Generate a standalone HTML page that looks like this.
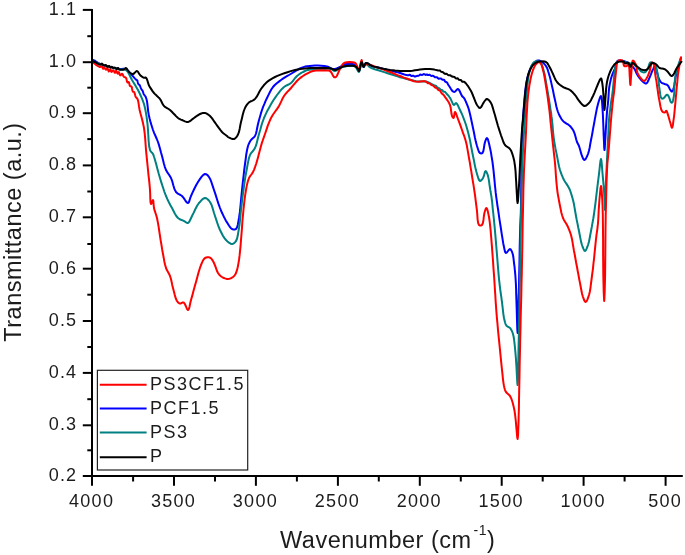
<!DOCTYPE html>
<html><head><meta charset="utf-8"><title>FTIR</title>
<style>html,body{margin:0;padding:0;background:#fff}svg{display:block}</style></head>
<body>
<svg width="685" height="555" viewBox="0 0 685 555">
<rect width="685" height="555" fill="#fff"/>
<g fill="none" stroke-width="2" stroke-linejoin="round" stroke-linecap="round">
<polyline stroke="#0000ff" points="92.0,61.0 92.1,60.9 92.3,60.5 92.6,60.2 93.0,60.0 94.3,60.4 96.0,61.5 98.0,62.9 100.0,64.0 102.3,64.9 104.9,65.7 107.4,66.4 110.0,67.0 112.5,67.6 115.1,68.2 117.7,68.7 120.0,69.0 121.6,69.0 123.2,68.8 124.6,68.7 126.0,69.0 127.4,69.9 128.6,71.1 129.8,72.6 131.0,74.0 132.3,75.5 133.7,77.1 135.0,78.6 136.0,79.6 136.3,79.8 136.7,79.9 136.9,80.1 137.2,80.3 137.5,81.0 137.7,82.0 138.0,83.1 138.3,83.9 138.6,84.3 139.0,84.6 139.3,84.8 139.7,85.2 140.1,86.0 140.4,86.9 140.8,87.9 141.2,88.8 141.5,89.3 141.9,89.8 142.3,90.3 142.6,90.8 142.9,91.6 143.2,92.5 143.4,93.4 143.8,94.2 144.2,94.8 144.7,95.4 145.1,96.0 145.6,96.7 145.9,97.5 146.2,98.3 146.5,99.3 146.8,100.4 147.3,103.3 147.7,106.9 148.1,110.8 148.7,114.6 149.6,118.5 150.6,122.4 151.8,126.3 153.0,130.0 154.2,133.1 155.5,136.0 156.8,139.0 158.0,142.0 159.1,145.4 160.1,148.9 161.0,152.5 162.0,156.0 162.9,159.6 163.8,163.3 164.8,166.8 166.0,170.0 167.2,172.1 168.5,174.0 169.8,175.9 171.0,178.0 172.3,181.4 173.3,185.3 174.5,189.1 176.0,192.0 177.4,193.3 178.9,194.2 180.5,195.0 182.0,196.0 183.6,197.9 185.2,200.3 186.7,202.3 188.0,203.0 188.9,202.2 189.5,200.4 190.2,198.2 191.0,196.0 192.5,192.7 194.2,189.0 196.1,185.3 198.0,182.0 199.7,179.4 201.5,176.9 203.3,174.9 205.0,174.0 206.1,174.2 207.1,174.8 208.1,175.8 209.0,177.0 210.4,179.5 211.6,182.7 212.8,186.4 214.0,190.0 215.5,194.4 217.0,199.2 218.5,203.9 220.0,208.0 221.0,210.5 222.0,212.8 223.0,214.9 224.0,217.0 225.0,218.9 225.9,220.7 227.0,222.4 228.0,224.0 228.9,225.5 229.9,226.9 230.9,228.2 232.0,229.0 233.0,229.4 234.1,229.5 235.1,229.4 236.0,229.0 237.1,227.3 237.8,224.7 238.4,221.4 239.0,218.0 239.9,211.9 240.6,204.8 241.3,197.2 242.0,190.0 242.7,183.3 243.5,176.6 244.2,170.1 245.0,164.0 245.7,159.0 246.3,154.2 247.1,149.7 248.0,146.0 248.7,144.2 249.4,142.7 250.1,141.3 251.0,140.0 252.0,139.0 253.0,138.1 254.1,137.2 255.0,136.0 256.0,133.5 256.7,130.5 257.3,127.2 258.0,124.0 258.9,120.5 259.9,117.0 260.9,113.4 262.0,110.0 263.1,106.9 264.4,103.9 265.6,100.9 267.0,98.0 268.4,95.1 269.8,92.2 271.3,89.5 273.0,87.0 274.8,85.0 276.8,83.2 278.9,81.6 281.0,80.0 282.9,78.7 284.9,77.4 286.9,76.2 289.0,75.0 291.5,73.5 294.1,71.8 296.6,70.3 299.0,69.0 300.5,68.2 302.0,67.6 303.4,67.1 305.0,66.6 307.3,66.2 309.8,65.9 312.4,65.7 315.0,65.6 318.0,65.6 321.2,65.7 324.3,65.9 327.0,66.4 328.7,67.0 330.1,67.9 331.5,68.6 333.0,69.0 334.8,68.9 336.6,68.4 338.4,67.7 340.0,67.0 341.0,66.4 341.9,65.7 342.9,65.1 344.0,64.6 346.5,64.1 349.6,63.8 352.6,63.9 355.0,64.6 356.4,66.1 357.4,68.3 358.2,70.2 359.0,71.0 359.8,69.5 360.4,66.5 361.0,63.4 361.6,62.0 362.1,62.8 362.6,64.5 363.1,66.2 363.6,67.0 364.1,66.4 364.6,65.2 365.2,63.8 366.0,63.0 367.2,63.2 368.7,64.0 370.3,65.1 372.0,66.0 373.9,66.6 375.9,67.1 377.9,67.5 380.0,68.0 382.4,68.6 384.9,69.2 387.5,69.9 390.0,70.5 392.5,71.1 395.1,71.7 397.6,72.4 400.0,73.0 402.2,73.7 404.4,74.5 406.4,75.1 408.0,75.3 408.5,75.2 409.0,75.0 409.4,74.8 409.8,74.8 410.2,75.0 410.6,75.4 411.0,75.7 411.4,76.0 411.9,76.0 412.3,75.8 412.8,75.7 413.2,75.7 413.6,75.9 414.1,76.2 414.5,76.5 414.9,76.6 415.4,76.5 415.9,76.3 416.4,76.1 416.9,75.9 417.3,75.8 417.7,75.9 418.0,75.9 418.4,75.8 418.9,75.5 419.5,75.1 420.0,74.7 420.4,74.5 420.8,74.6 421.1,74.8 421.3,74.9 421.7,75.0 422.2,74.9 422.7,74.6 423.3,74.3 423.8,74.1 424.3,74.2 424.8,74.5 425.2,74.8 425.7,74.9 426.0,74.8 426.3,74.6 426.6,74.5 426.9,74.4 427.2,74.5 427.5,74.7 427.8,75.0 428.1,75.1 428.5,75.1 428.8,74.9 429.2,74.8 429.6,74.8 430.0,74.9 430.4,75.3 430.8,75.6 431.2,75.8 431.7,75.9 432.2,75.8 432.8,75.8 433.3,75.9 433.8,76.2 434.2,76.6 434.6,77.0 435.1,77.3 435.6,77.3 436.1,77.3 436.5,77.2 437.0,77.3 437.4,77.6 437.7,78.0 438.1,78.4 438.5,78.7 439.0,78.7 439.5,78.6 440.1,78.4 440.7,78.4 441.2,78.7 441.6,79.1 442.1,79.5 442.6,79.8 442.9,79.8 443.3,79.7 443.7,79.7 444.0,79.7 444.3,80.1 444.6,80.6 444.9,81.3 445.3,81.7 445.6,81.9 446.0,82.0 446.5,82.2 446.9,82.4 447.3,82.9 447.6,83.5 448.0,84.2 448.4,85.0 449.6,86.8 451.0,89.1 452.5,91.1 454.0,92.0 455.0,91.6 456.1,90.5 457.1,89.4 458.0,89.0 459.1,90.0 460.1,92.0 461.1,94.3 462.0,96.0 462.5,96.6 463.0,97.0 463.5,97.5 464.0,98.0 464.5,98.8 465.0,99.8 465.5,100.9 466.0,102.0 466.7,103.7 467.5,105.6 468.3,107.7 469.0,110.0 470.0,114.0 471.0,118.5 472.0,123.3 473.0,128.0 474.0,132.7 474.9,137.5 475.9,142.1 477.0,146.0 477.7,148.2 478.4,150.3 479.1,152.0 480.0,153.0 480.6,153.3 481.2,153.4 481.8,153.3 482.4,153.0 483.3,151.2 483.9,148.1 484.4,144.7 485.0,142.0 485.5,140.6 486.0,139.3 486.5,138.4 487.0,138.0 487.8,139.1 488.5,141.6 489.3,144.8 490.0,148.0 490.9,152.1 491.6,156.6 492.4,161.3 493.0,166.0 493.6,171.1 494.1,176.4 494.6,181.5 495.0,186.0 495.3,188.5 495.5,190.6 495.7,192.7 496.0,195.0 496.4,198.2 496.9,201.7 497.4,205.3 498.0,209.0 498.7,213.8 499.4,218.8 500.2,224.0 501.0,229.0 501.7,233.8 502.5,238.7 503.2,243.2 504.0,247.0 504.4,249.0 504.8,250.9 505.3,252.3 506.0,253.0 506.9,252.5 508.0,251.0 509.1,249.6 510.0,249.0 510.7,249.4 511.3,250.4 511.9,251.7 512.4,253.0 513.0,255.1 513.4,257.5 513.7,260.2 514.0,263.0 514.5,266.7 514.9,270.6 515.3,274.8 515.6,279.0 515.9,283.9 516.1,289.0 516.2,294.3 516.4,300.0 516.7,309.3 517.0,320.2 517.3,329.2 517.6,333.0 517.9,329.1 518.1,319.8 518.3,308.9 518.5,300.0 518.6,296.0 518.8,292.7 518.9,289.2 519.0,285.0 519.2,274.3 519.5,261.0 519.7,247.3 520.0,235.0 520.2,227.3 520.5,220.3 520.8,213.2 521.0,205.0 521.2,189.1 521.4,170.6 521.6,152.0 522.0,136.0 522.4,127.2 522.9,119.3 523.4,112.0 524.0,105.0 524.4,99.6 524.9,94.4 525.4,89.6 526.0,85.0 526.6,81.5 527.3,78.1 528.1,74.9 529.0,72.0 529.9,69.7 530.8,67.6 531.8,65.7 533.0,64.0 534.1,62.8 535.4,61.7 536.7,60.8 538.0,60.4 539.0,60.5 540.0,60.8 541.0,61.4 542.0,62.0 543.1,62.8 544.1,63.7 545.1,64.8 546.0,66.0 546.9,67.7 547.7,69.7 548.3,71.8 549.0,74.0 549.8,76.8 550.6,79.8 551.3,82.9 552.0,86.0 552.8,89.4 553.5,93.0 554.2,96.6 555.0,100.0 555.7,103.1 556.3,106.2 557.1,109.2 558.0,112.0 559.0,114.5 560.2,116.8 561.5,119.1 563.0,121.0 564.7,122.4 566.5,123.6 568.4,124.7 570.0,126.0 571.2,127.4 572.2,128.8 573.2,130.3 574.0,132.0 574.9,134.4 575.6,137.1 576.3,139.8 577.0,142.0 577.5,143.1 578.0,144.0 578.5,144.9 579.0,146.0 579.7,148.3 580.5,151.0 581.2,153.7 582.0,156.0 582.6,157.3 583.1,158.6 583.8,159.6 584.4,160.0 585.3,159.4 586.2,157.9 587.2,156.0 588.0,154.0 588.9,151.0 589.7,147.5 590.3,143.7 591.0,140.0 591.8,136.1 592.5,132.2 593.2,128.1 594.0,124.0 594.9,118.9 595.9,113.6 596.9,108.4 598.0,104.0 598.8,101.3 599.6,98.7 600.4,96.7 601.0,96.0 601.6,97.5 602.0,101.1 602.3,105.7 602.6,110.0 602.9,114.7 603.1,119.8 603.3,124.9 603.5,130.0 603.7,135.9 604.0,142.5 604.2,147.8 604.5,150.0 604.8,147.8 605.1,142.4 605.5,135.9 605.8,130.0 606.1,125.4 606.4,120.7 606.7,116.2 607.0,112.0 607.3,108.7 607.7,105.7 608.0,102.7 608.3,99.6 608.5,96.4 608.7,93.2 608.9,90.1 609.3,87.0 609.8,84.1 610.4,81.3 611.0,78.6 611.8,76.0 612.5,74.0 613.3,72.2 614.1,70.4 614.9,68.6 615.5,66.5 615.9,64.3 616.5,62.3 617.4,61.0 618.6,60.5 620.0,60.5 621.6,60.7 623.0,61.0 624.3,61.3 625.5,61.7 626.8,62.3 628.0,63.0 629.6,64.1 631.3,65.5 632.9,67.0 634.2,68.6 635.1,70.1 635.8,71.7 636.5,73.3 637.3,74.8 638.4,76.5 639.6,78.1 640.9,79.7 642.2,81.0 643.2,81.9 644.3,82.8 645.3,83.4 646.2,83.5 647.2,82.7 648.1,81.1 648.9,79.1 649.7,77.3 650.5,75.4 651.3,73.4 652.0,71.5 652.8,69.8 653.4,68.6 653.9,67.3 654.5,66.3 655.0,66.0 655.9,67.4 656.7,70.6 657.5,74.3 658.4,77.3 659.0,78.8 659.5,80.1 660.1,81.2 660.9,82.2 661.7,82.8 662.7,83.3 663.7,83.6 664.6,84.0 665.4,84.3 666.2,84.5 667.0,84.8 667.7,85.3 668.4,86.2 669.0,87.4 669.6,88.7 670.2,89.7 670.7,90.4 671.1,91.0 671.6,91.5 672.0,91.6 672.5,91.1 673.0,90.1 673.5,88.7 673.9,87.2 674.5,84.5 675.0,81.4 675.4,78.1 676.0,75.0 676.6,72.6 677.2,70.4 677.9,68.2 678.5,66.0 679.2,63.6 680.1,61.0 680.7,58.9 681.0,58.0"/>
<polyline stroke="#008080" points="92.0,61.0 92.9,61.3 94.9,62.1 97.6,63.1 100.0,64.0 102.4,64.8 104.9,65.6 107.5,66.3 110.0,67.0 112.6,67.7 115.1,68.4 117.7,69.0 120.0,69.5 121.6,69.6 123.2,69.5 124.6,69.5 126.0,70.0 127.7,71.7 129.2,74.3 130.6,77.2 132.0,80.0 133.5,82.5 135.0,84.9 136.5,87.4 138.0,90.0 139.6,93.3 141.2,96.7 142.7,100.3 144.0,104.0 145.0,108.0 145.8,112.1 146.5,116.2 147.0,120.0 147.3,122.6 147.6,124.9 147.8,127.3 148.0,130.0 148.3,134.9 148.6,140.6 149.1,146.0 150.0,150.0 150.7,151.3 151.5,152.2 152.3,153.0 153.0,154.0 153.6,155.3 154.0,156.7 154.5,158.2 155.0,160.0 156.1,163.8 157.3,168.4 158.6,173.3 160.0,178.0 161.4,182.6 162.9,187.3 164.4,191.8 166.0,196.0 167.4,199.2 168.9,202.3 170.4,205.2 172.0,208.0 173.4,210.7 174.8,213.5 176.3,216.0 178.0,218.0 179.4,219.0 181.0,219.8 182.6,220.4 184.0,221.0 185.1,221.7 186.1,222.4 187.1,222.9 188.0,223.0 189.1,222.1 190.0,220.3 191.0,218.2 192.0,216.0 193.6,212.9 195.3,209.3 197.1,205.8 199.0,203.0 200.5,201.3 202.0,199.6 203.5,198.5 205.0,198.0 206.3,198.3 207.6,199.2 208.9,200.5 210.0,202.0 211.5,204.8 212.7,208.4 213.8,212.3 215.0,216.0 216.2,219.6 217.4,223.2 218.6,226.7 220.0,230.0 221.4,232.8 222.8,235.5 224.3,237.9 226.0,240.0 227.5,241.4 229.0,242.7 230.6,243.7 232.0,244.0 233.1,243.7 234.2,243.1 235.1,242.1 236.0,241.0 237.1,238.5 237.8,235.3 238.4,231.6 239.0,228.0 239.6,223.8 240.1,219.4 240.5,214.8 241.0,210.0 241.7,204.2 242.4,198.0 243.2,191.8 244.0,186.0 244.7,181.2 245.4,176.6 246.2,172.2 247.0,168.0 247.6,164.5 248.3,161.1 249.0,157.9 250.0,155.0 251.1,153.1 252.5,151.5 253.8,149.9 255.0,148.0 256.2,144.9 257.1,141.4 258.0,137.7 259.0,134.0 260.2,130.0 261.3,125.9 262.6,121.8 264.0,118.0 265.4,114.8 266.8,111.8 268.4,108.9 270.0,106.0 271.7,103.1 273.4,100.3 275.2,97.6 277.0,95.0 278.7,92.8 280.4,90.7 282.2,88.7 284.0,87.0 285.7,85.9 287.5,85.0 289.3,84.1 291.0,83.0 292.6,81.4 294.0,79.5 295.4,77.7 297.0,76.0 298.9,74.5 300.9,73.2 303.0,72.0 305.0,71.0 306.5,70.4 307.9,70.0 309.3,69.7 311.0,69.4 314.2,69.1 318.0,69.0 321.8,69.0 325.0,69.0 326.7,68.9 328.2,68.8 329.7,68.8 331.0,69.0 332.1,69.5 333.0,70.2 334.0,70.8 335.0,71.0 336.2,70.6 337.5,69.8 338.7,68.8 340.0,68.0 341.2,67.5 342.4,67.0 343.6,66.7 345.0,66.4 347.4,66.0 350.1,65.8 352.8,65.8 355.0,66.4 356.3,67.7 357.3,69.7 358.2,71.4 359.0,72.0 359.8,70.3 360.4,66.9 361.0,63.6 361.6,62.0 362.1,62.7 362.5,64.4 363.0,66.2 363.6,67.0 364.1,66.6 364.7,65.6 365.3,64.5 366.0,64.0 366.9,64.3 367.8,65.2 368.8,66.4 370.0,67.3 372.1,68.3 374.7,69.2 377.4,70.0 380.0,70.8 382.5,71.6 385.0,72.4 387.5,73.2 390.0,74.0 392.5,74.8 395.0,75.6 397.5,76.4 400.0,77.2 402.5,77.9 405.1,78.6 407.6,79.2 410.0,79.8 412.1,80.3 414.0,80.8 416.0,81.3 418.0,81.6 420.0,81.6 422.0,81.4 424.0,81.3 426.0,81.5 428.2,82.2 430.4,83.3 432.4,84.4 434.0,85.2 434.6,85.4 435.0,85.6 435.5,85.7 435.9,85.9 436.4,86.3 436.9,86.9 437.4,87.4 437.9,87.8 438.3,88.0 438.7,88.1 439.0,88.2 439.4,88.4 439.7,88.7 440.1,89.2 440.4,89.6 440.8,89.9 441.1,90.0 441.5,90.0 441.8,90.0 442.1,90.1 442.5,90.4 442.8,90.8 443.1,91.3 443.5,91.6 443.9,91.7 444.3,91.8 444.8,91.8 445.2,92.0 445.6,92.5 446.1,93.1 446.5,93.7 447.0,94.3 447.3,94.6 447.7,94.9 448.1,95.3 448.4,95.6 448.9,96.3 449.4,97.0 450.0,97.8 450.5,98.7 451.3,100.4 452.2,102.4 453.1,104.2 454.0,105.0 454.5,104.7 455.0,104.0 455.5,103.3 456.0,103.0 456.9,103.8 458.0,105.6 459.0,107.8 460.0,110.0 461.3,112.7 462.6,115.7 463.8,118.8 465.0,122.0 466.1,125.3 467.1,128.8 468.1,132.3 469.0,136.0 470.1,140.8 471.0,145.8 472.0,151.0 473.0,156.0 474.0,160.8 474.9,165.6 475.9,170.1 477.0,174.0 477.7,176.3 478.4,178.5 479.2,180.2 480.0,181.0 480.7,180.8 481.5,180.1 482.3,179.1 483.0,178.0 483.8,176.2 484.4,173.9 485.0,171.9 485.6,171.0 486.2,171.5 486.8,172.7 487.5,174.3 488.0,176.0 488.6,178.6 489.1,181.6 489.5,184.8 490.0,188.0 490.5,191.3 491.1,194.6 491.6,197.9 492.0,201.0 492.3,203.5 492.5,205.9 492.7,208.3 493.0,211.0 493.5,215.5 494.0,220.5 494.5,225.7 495.0,231.0 495.5,236.8 496.0,242.9 496.5,248.9 497.0,255.0 497.5,261.1 498.0,267.3 498.5,273.3 499.0,279.0 499.5,283.4 500.0,287.6 500.5,291.5 501.0,295.0 501.3,296.9 501.5,298.5 501.7,300.1 502.0,302.0 502.4,305.7 502.9,310.0 503.4,314.3 504.0,318.0 504.5,320.2 505.0,322.3 505.6,324.1 506.4,325.6 507.2,326.3 508.2,326.8 509.1,327.3 510.0,328.0 510.9,329.2 511.7,330.6 512.4,332.2 513.0,334.0 513.7,337.0 514.2,340.5 514.6,344.2 515.0,348.0 515.4,352.3 515.8,356.8 516.1,361.4 516.4,366.0 516.7,371.6 517.0,377.8 517.3,382.9 517.6,385.0 517.9,381.5 518.1,372.7 518.3,361.3 518.5,350.0 518.9,333.0 519.3,313.7 519.6,293.8 520.0,275.0 520.3,259.6 520.5,244.7 520.7,230.0 521.0,215.0 521.4,198.4 521.9,181.4 522.4,164.8 523.0,150.0 523.5,140.6 524.0,132.0 524.5,123.9 525.0,116.0 525.5,109.1 525.9,102.4 526.5,96.0 527.0,90.0 527.4,85.6 527.8,81.5 528.3,77.6 529.0,74.0 529.6,71.4 530.3,69.0 531.1,66.8 532.0,65.0 532.7,63.9 533.3,62.9 534.1,62.1 535.0,61.6 536.2,61.3 537.5,61.2 538.8,61.4 540.0,62.0 541.3,63.6 542.3,66.1 543.2,69.0 544.0,72.0 544.9,75.7 545.6,79.7 546.3,83.8 547.0,88.0 547.8,92.5 548.6,97.1 549.3,101.6 550.0,106.0 550.5,109.6 551.1,112.9 551.5,116.4 552.0,120.0 552.5,124.8 552.9,129.9 553.4,135.1 554.0,140.0 554.7,144.2 555.4,148.2 556.2,152.1 557.0,156.0 557.7,159.6 558.4,163.2 559.1,166.7 560.0,170.0 560.9,172.7 561.8,175.2 562.9,177.7 564.0,180.0 565.2,182.0 566.5,183.9 567.8,185.9 569.0,188.0 570.2,190.7 571.2,193.7 572.1,196.8 573.0,200.0 573.9,203.8 574.6,207.9 575.3,212.0 576.0,216.0 576.7,219.8 577.5,223.6 578.2,227.3 579.0,231.0 579.7,234.7 580.4,238.4 581.1,241.9 582.0,245.0 582.7,247.0 583.5,248.9 584.2,250.4 585.0,251.0 585.8,250.4 586.5,248.9 587.3,247.0 588.0,245.0 588.9,242.0 589.6,238.5 590.3,234.7 591.0,231.0 591.8,226.9 592.5,222.8 593.3,218.5 594.0,214.0 594.8,208.2 595.6,202.0 596.3,195.8 597.0,190.0 597.5,185.8 598.0,181.8 598.5,177.9 599.0,174.0 599.5,169.5 600.0,164.6 600.5,160.6 601.0,159.0 601.4,160.4 601.7,163.7 602.1,168.0 602.4,172.0 602.8,176.3 603.2,180.8 603.6,185.4 604.0,190.0 604.3,195.9 604.6,202.4 604.8,207.8 605.0,210.0 605.3,206.8 605.5,199.0 605.7,189.2 606.0,180.0 606.5,170.1 607.0,159.5 607.5,149.2 608.0,140.0 608.3,134.4 608.5,129.4 608.7,124.6 609.0,120.0 609.3,116.3 609.7,112.7 610.2,109.2 610.6,105.8 611.0,102.6 611.5,99.5 612.0,96.5 612.4,93.4 612.8,90.3 613.1,87.2 613.4,84.1 613.7,81.0 614.0,78.1 614.2,75.2 614.5,72.4 614.9,69.8 615.2,67.6 615.6,65.3 616.1,63.4 617.0,62.0 618.2,61.4 619.8,61.3 621.5,61.3 623.0,61.5 624.3,61.8 625.5,62.2 626.8,62.6 628.0,63.0 629.3,63.2 630.5,63.4 631.8,63.6 633.0,64.0 634.4,64.9 635.9,66.1 637.3,67.4 638.5,68.6 639.3,69.5 640.1,70.3 640.8,71.1 641.6,71.7 642.4,72.1 643.2,72.3 644.0,72.4 644.7,72.3 645.6,71.8 646.4,70.8 647.1,69.7 647.8,68.6 648.5,67.0 649.0,65.1 649.6,63.4 650.3,62.4 650.9,62.3 651.6,62.4 652.3,62.6 653.0,63.0 653.7,63.5 654.3,64.2 654.9,65.0 655.5,66.0 656.2,67.8 656.8,69.9 657.3,72.3 657.8,74.8 658.3,78.3 658.7,82.3 659.1,86.2 659.6,89.7 660.0,92.3 660.3,94.9 660.8,97.1 661.5,98.4 661.9,98.6 662.4,98.7 662.9,98.6 663.4,98.4 664.3,97.6 665.2,96.4 666.2,95.2 667.0,94.7 667.6,94.9 668.1,95.5 668.6,96.3 669.0,97.1 669.5,98.3 669.9,99.7 670.3,101.1 670.8,102.0 671.1,102.3 671.4,102.6 671.7,102.7 672.0,102.7 672.6,101.9 673.1,100.2 673.5,98.1 673.9,96.0 674.2,93.2 674.3,90.0 674.3,86.7 674.5,83.5 674.9,80.3 675.3,77.1 675.8,73.9 676.4,71.0 677.0,68.8 677.6,66.8 678.3,64.8 679.0,63.0 679.6,61.4 680.3,59.8 680.8,58.5 681.0,58.0"/>
<polyline stroke="#ff0000" points="92.0,61.6 93.0,62.4 95.4,64.3 98.1,66.1 100.0,67.0 100.5,66.8 100.9,66.4 101.2,66.1 101.5,66.0 102.0,66.5 102.4,67.4 102.8,68.3 103.1,68.8 103.4,68.6 103.7,68.2 103.9,67.8 104.2,67.6 104.7,67.9 105.1,68.7 105.6,69.4 106.0,69.7 106.4,69.4 106.7,68.8 107.0,68.2 107.3,67.9 107.7,68.5 108.0,69.7 108.4,70.8 108.8,71.4 109.1,71.1 109.5,70.3 109.9,69.6 110.3,69.2 110.6,69.7 110.8,70.6 111.1,71.5 111.4,71.9 111.9,71.7 112.3,71.1 112.8,70.4 113.3,70.2 113.7,70.7 114.2,71.6 114.6,72.5 115.0,72.9 115.3,72.6 115.6,71.8 115.8,71.1 116.1,70.7 116.5,71.2 116.9,72.2 117.3,73.2 117.7,73.7 118.0,73.4 118.2,72.8 118.5,72.2 118.8,72.0 119.1,72.5 119.4,73.6 119.8,74.8 120.2,75.4 120.7,75.2 121.1,74.6 121.6,74.0 122.1,73.8 122.6,74.2 123.0,75.2 123.4,76.2 124.0,76.9 124.4,77.1 124.8,77.2 125.3,77.2 125.7,77.5 126.3,78.6 126.7,80.2 127.1,81.7 127.6,82.6 127.9,82.5 128.2,82.3 128.5,82.1 128.8,82.1 129.1,82.7 129.4,83.9 129.6,85.2 130.0,86.0 130.3,86.2 130.7,86.2 131.1,86.3 131.4,86.5 131.9,87.5 132.1,89.0 132.4,90.5 132.8,91.5 133.1,91.8 133.5,91.8 133.8,91.9 134.2,92.1 134.6,93.1 135.0,94.4 135.3,95.8 135.7,96.9 136.2,97.5 136.7,98.0 137.2,98.5 137.6,99.2 138.2,101.1 138.6,103.6 139.0,106.4 139.5,109.4 140.5,113.6 141.8,118.2 143.0,123.1 144.0,128.0 144.7,133.4 145.2,138.9 145.6,144.5 146.0,150.0 146.5,155.1 147.0,160.1 147.5,165.0 148.0,170.0 148.5,175.1 149.1,180.2 149.6,185.2 150.0,190.0 150.2,194.3 150.3,198.8 150.5,202.5 151.0,204.0 151.5,203.4 152.0,202.0 152.6,200.6 153.0,200.0 153.3,200.9 153.5,203.0 153.7,205.6 154.0,208.0 154.6,210.4 155.4,212.7 156.2,215.3 157.0,218.0 157.8,222.1 158.6,226.7 159.3,231.4 160.0,236.0 160.7,240.6 161.5,245.1 162.2,249.7 163.0,254.0 163.7,257.7 164.3,261.4 165.1,264.8 166.0,268.0 166.9,270.1 168.0,272.0 169.1,273.9 170.0,276.0 170.9,278.8 171.6,281.8 172.2,284.9 173.0,288.0 173.9,291.5 174.8,295.1 175.8,298.5 177.0,301.0 177.7,302.0 178.4,302.7 179.2,303.3 180.0,303.6 180.9,303.4 181.8,302.9 182.7,302.4 183.6,302.4 184.8,303.9 186.0,306.5 187.0,309.0 188.0,310.0 188.9,308.9 189.6,306.4 190.2,303.2 191.0,300.0 192.2,295.9 193.4,291.3 194.7,286.6 196.0,282.0 197.2,277.5 198.4,273.0 199.7,268.7 201.0,265.0 201.9,262.8 202.8,260.8 203.8,259.2 205.0,258.0 206.2,257.5 207.5,257.2 208.8,257.3 210.0,257.6 211.2,258.5 212.2,259.8 213.1,261.3 214.0,263.0 215.0,265.4 216.0,268.1 216.9,270.8 218.0,273.0 218.9,274.2 219.8,275.3 220.9,276.2 222.0,277.0 223.4,277.8 224.9,278.4 226.5,278.9 228.0,279.0 229.3,278.8 230.7,278.4 231.9,277.7 233.0,277.0 233.9,276.2 234.7,275.3 235.4,274.3 236.0,273.0 236.9,270.4 237.7,267.2 238.4,263.6 239.0,260.0 239.6,255.4 240.1,250.4 240.6,245.3 241.0,240.0 241.5,233.9 242.0,227.7 242.4,221.3 243.0,215.0 243.6,208.5 244.3,201.9 245.1,195.6 246.0,190.0 246.6,186.6 247.3,183.4 248.1,180.6 249.0,178.0 249.9,176.4 251.0,175.0 252.0,173.6 253.0,172.0 254.1,169.6 255.1,166.9 256.1,164.0 257.0,161.0 258.0,157.4 259.0,153.5 260.0,149.7 261.0,146.0 261.9,142.9 262.9,140.0 263.9,137.1 265.0,134.0 266.3,130.1 267.7,125.9 269.3,121.8 271.0,118.0 272.9,114.8 275.0,111.8 277.1,108.9 279.0,106.0 280.3,103.4 281.5,100.9 282.6,98.4 284.0,96.0 285.6,93.9 287.3,91.9 289.2,90.0 291.0,88.0 292.9,85.7 294.9,83.3 296.9,81.0 299.0,79.0 301.0,77.4 303.0,76.0 305.0,74.7 307.0,73.6 308.5,72.8 309.9,72.1 311.3,71.5 313.0,71.0 315.8,70.6 319.0,70.4 322.3,70.3 325.0,70.4 326.4,70.4 327.7,70.4 328.9,70.5 330.0,71.0 331.2,72.3 332.2,74.1 333.1,75.9 334.0,77.0 334.5,77.2 335.0,77.3 335.5,77.2 336.0,77.0 336.8,76.0 337.5,74.5 338.3,72.7 339.0,71.0 339.7,69.6 340.5,68.1 341.2,66.7 342.0,65.5 342.5,64.7 343.1,63.9 343.7,63.3 344.5,62.8 346.8,62.2 349.8,62.0 352.8,62.2 355.0,62.8 355.7,63.4 356.2,64.2 356.6,65.1 357.0,66.0 357.5,67.2 358.0,68.5 358.5,69.6 359.0,70.0 359.7,68.4 360.4,65.0 361.0,61.5 361.6,60.0 361.9,60.9 362.2,62.9 362.5,64.9 363.0,66.0 363.6,65.8 364.3,65.2 365.1,64.4 366.0,64.0 368.0,64.2 370.5,64.9 373.2,66.0 376.0,67.0 379.4,68.1 383.0,69.4 386.6,70.7 390.0,72.0 392.6,73.0 395.2,74.1 397.6,75.1 400.0,76.0 402.1,76.8 404.0,77.6 406.0,78.3 408.0,79.0 410.0,79.7 412.0,80.5 414.0,81.2 416.0,81.6 418.1,81.7 420.3,81.5 422.4,81.3 424.0,81.2 424.6,81.2 425.0,81.3 425.5,81.4 425.9,81.6 426.5,82.0 427.0,82.5 427.5,82.9 428.1,83.3 428.4,83.3 428.8,83.3 429.1,83.3 429.5,83.4 430.0,83.7 430.4,84.1 430.9,84.6 431.4,84.9 431.8,85.1 432.3,85.3 432.8,85.4 433.3,85.7 433.8,86.1 434.3,86.7 434.8,87.2 435.2,87.6 435.6,87.8 436.0,87.8 436.3,87.9 436.7,88.0 437.1,88.4 437.4,88.9 437.8,89.5 438.2,89.9 438.7,90.2 439.2,90.4 439.8,90.6 440.2,90.9 440.6,91.4 440.9,92.0 441.2,92.6 441.6,93.2 442.0,93.6 442.5,94.0 443.0,94.4 443.4,94.8 443.9,95.3 444.3,95.9 444.8,96.6 445.3,97.4 446.4,98.9 447.7,100.8 449.0,102.8 450.0,105.0 450.7,107.8 451.1,110.9 451.5,113.8 452.0,116.0 452.4,116.8 452.8,117.4 453.2,117.9 453.6,118.0 454.0,117.0 454.3,115.0 454.6,112.9 455.0,112.0 455.6,112.7 456.4,114.5 457.2,116.8 458.0,119.0 459.0,121.6 460.0,124.3 461.0,127.2 462.0,130.0 463.0,132.9 464.1,135.8 465.1,138.8 466.0,142.0 466.9,145.8 467.6,149.8 468.3,153.9 469.0,158.0 469.8,162.4 470.5,166.9 471.3,171.4 472.0,176.0 472.8,180.8 473.6,185.6 474.3,190.3 475.0,195.0 475.5,199.1 476.0,203.2 476.5,207.1 477.0,211.0 477.3,215.0 477.6,219.3 478.1,222.9 479.0,225.0 479.7,225.4 480.5,225.5 481.3,225.4 482.0,225.0 482.9,223.0 483.5,219.7 483.9,216.0 484.4,213.0 484.9,211.3 485.4,209.7 485.9,208.5 486.4,208.0 487.1,208.9 487.8,211.2 488.4,214.1 489.0,217.0 489.6,221.0 490.1,225.4 490.6,230.1 491.0,235.0 491.5,241.1 492.0,247.6 492.5,254.3 493.0,261.0 493.5,268.6 494.1,276.5 494.6,284.2 495.0,291.0 495.3,295.0 495.5,298.6 495.7,302.1 496.0,306.0 496.4,311.7 496.9,317.8 497.5,324.0 498.0,330.0 498.5,335.1 499.0,340.1 499.5,345.0 500.0,350.0 500.5,355.1 501.0,360.1 501.5,365.2 502.0,370.0 502.5,374.3 502.9,378.6 503.4,382.6 504.0,386.0 504.4,387.8 504.8,389.3 505.3,390.7 506.0,392.0 506.9,393.1 508.0,394.0 509.1,394.9 510.0,396.0 510.9,397.7 511.7,399.7 512.4,401.8 513.0,404.0 513.6,406.4 514.1,408.8 514.6,411.3 515.0,414.0 515.4,417.4 515.8,421.0 516.1,424.6 516.4,428.0 516.7,431.4 517.0,435.0 517.3,437.8 517.6,439.0 517.8,437.7 518.1,434.4 518.2,430.2 518.4,426.0 518.6,420.5 518.7,414.6 518.9,408.1 519.0,401.0 519.2,389.4 519.5,376.4 519.7,362.9 520.0,350.0 520.2,338.8 520.5,327.8 520.7,316.9 521.0,306.0 521.3,295.1 521.5,284.2 521.8,273.3 522.0,262.0 522.3,249.1 522.5,235.8 522.7,222.6 523.0,210.0 523.2,199.5 523.4,189.3 523.7,179.5 524.0,170.0 524.4,162.2 524.8,154.7 525.2,147.4 525.6,140.0 526.0,132.2 526.3,124.3 526.6,116.7 527.0,110.0 527.2,106.1 527.4,102.7 527.7,99.4 528.0,96.0 528.4,92.5 528.9,88.9 529.4,85.4 530.0,82.0 530.6,78.8 531.3,75.7 532.1,72.7 533.0,70.0 533.9,67.9 534.8,65.9 535.9,64.2 537.0,63.0 537.7,62.6 538.5,62.3 539.3,62.2 540.0,62.4 540.9,63.5 541.7,65.3 542.4,67.6 543.0,70.0 543.9,73.5 544.6,77.5 545.3,81.7 546.0,86.0 546.8,91.1 547.6,96.4 548.3,101.8 549.0,107.0 549.6,111.8 550.1,116.6 550.5,121.3 551.0,126.0 551.5,130.8 552.0,135.5 552.5,140.3 553.0,145.0 553.5,149.5 554.0,153.8 554.5,158.3 555.0,163.0 555.5,169.1 555.9,175.5 556.4,181.9 557.0,188.0 557.6,192.8 558.4,197.4 559.2,201.8 560.0,206.0 560.7,209.3 561.3,212.4 562.1,215.3 563.0,218.0 563.9,219.9 564.9,221.6 566.0,223.2 567.0,225.0 568.1,227.3 569.1,229.7 570.1,232.3 571.0,235.0 571.9,238.7 572.6,242.7 573.3,246.9 574.0,251.0 574.8,255.0 575.5,259.0 576.2,263.0 577.0,267.0 577.7,271.0 578.5,275.1 579.2,279.1 580.0,283.0 580.7,286.7 581.4,290.5 582.1,294.0 583.0,297.0 583.6,298.7 584.2,300.3 584.9,301.5 585.6,302.0 586.5,301.3 587.4,299.6 588.2,297.3 589.0,295.0 589.9,291.5 590.5,287.6 591.0,283.3 591.6,279.0 592.2,274.2 592.9,269.1 593.4,264.1 594.0,259.0 594.5,253.9 595.0,248.9 595.5,243.8 596.0,239.0 596.5,234.9 597.1,230.9 597.6,227.0 598.0,223.0 598.3,218.8 598.5,214.6 598.7,210.4 599.0,206.0 599.4,200.2 600.0,193.6 600.5,188.2 601.0,186.0 601.4,187.4 601.7,190.9 602.0,195.5 602.3,200.0 602.6,206.8 602.8,214.4 602.9,222.6 603.0,231.0 603.1,241.7 603.1,253.2 603.2,264.6 603.3,275.0 603.5,283.2 603.7,291.7 604.0,298.3 604.2,301.0 604.4,298.3 604.7,291.7 604.9,283.2 605.1,275.0 605.2,265.0 605.3,254.2 605.4,242.8 605.5,231.0 605.7,215.8 606.1,199.4 606.5,183.5 607.0,170.0 607.4,163.2 608.0,157.4 608.5,151.8 609.0,146.0 609.5,139.5 610.0,132.9 610.5,126.3 611.0,120.0 611.5,114.7 612.0,109.4 612.5,104.5 613.0,100.0 613.3,97.3 613.7,94.8 614.0,92.4 614.3,89.7 614.7,85.3 615.1,80.3 615.6,75.4 616.1,71.0 616.4,68.0 616.7,65.1 617.1,62.6 618.0,61.0 619.0,60.4 620.2,60.1 621.4,60.2 622.4,60.5 623.0,61.6 623.4,63.3 623.7,64.9 624.2,66.0 624.8,66.2 625.5,66.3 626.1,66.2 626.7,66.0 627.1,65.6 627.4,65.0 627.7,64.4 628.0,64.2 628.3,64.5 628.7,65.3 629.0,66.3 629.2,67.3 629.4,69.2 629.5,71.4 629.6,73.7 629.7,76.0 629.9,78.7 630.0,81.6 630.2,84.0 630.4,85.0 630.6,84.0 630.7,81.7 630.9,78.7 631.1,76.0 631.3,73.2 631.5,70.1 631.7,67.3 632.0,64.8 632.2,63.4 632.3,62.0 632.5,61.0 632.9,60.5 633.6,60.9 634.4,61.9 635.3,63.4 636.0,64.8 636.5,66.5 636.7,68.5 636.9,70.4 637.3,72.3 638.0,74.0 639.0,75.7 640.0,77.2 641.0,78.5 641.8,79.4 642.5,80.2 643.3,80.8 644.1,81.0 644.9,80.6 645.7,79.7 646.5,78.5 647.2,77.3 647.9,75.9 648.5,74.3 649.1,72.7 649.7,71.0 650.3,68.6 650.9,65.8 651.5,63.4 652.2,62.4 652.6,62.6 653.1,63.1 653.6,63.9 654.0,64.8 654.5,66.8 654.8,69.4 655.0,72.2 655.3,74.8 655.6,76.7 655.9,78.5 656.3,80.3 656.6,82.4 657.1,86.1 657.7,90.2 658.3,94.5 659.0,98.6 659.7,102.3 660.4,106.2 661.2,109.5 662.3,111.6 662.9,112.1 663.5,112.3 664.1,112.4 664.7,112.4 665.2,112.1 665.6,111.5 665.9,111.0 666.3,110.8 666.8,111.3 667.2,112.3 667.6,113.6 668.0,114.9 668.6,116.8 669.2,118.9 669.8,121.1 670.4,123.0 670.8,124.5 671.2,126.1 671.6,127.3 672.0,127.8 672.4,127.0 672.9,124.9 673.2,122.3 673.6,119.7 674.1,116.1 674.5,112.0 674.9,107.7 675.3,103.5 675.7,99.1 676.1,94.5 676.5,90.0 676.9,85.7 677.3,81.9 677.6,78.2 678.0,74.6 678.5,71.0 679.2,66.9 680.0,62.4 680.7,58.8 681.0,57.3"/>
<polyline stroke="#000000" points="92.0,61.0 92.4,61.2 93.5,61.5 94.8,62.0 96.0,62.5 97.0,63.1 98.1,63.8 99.1,64.4 100.0,64.6 100.5,64.5 101.0,64.1 101.4,63.8 101.8,63.6 102.3,63.9 102.8,64.5 103.3,65.1 103.9,65.5 104.4,65.4 104.9,65.2 105.4,65.1 105.9,65.0 106.3,65.4 106.7,66.0 107.0,66.5 107.4,66.8 107.9,66.7 108.3,66.3 108.8,66.0 109.2,65.9 109.5,66.2 109.8,66.8 110.1,67.3 110.4,67.6 110.7,67.5 111.1,67.2 111.4,66.9 111.8,66.8 112.2,67.0 112.6,67.3 113.0,67.8 113.4,68.0 113.8,67.9 114.1,67.7 114.4,67.6 114.8,67.5 115.3,67.8 115.8,68.3 116.3,68.8 116.8,69.1 117.1,68.9 117.4,68.4 117.7,68.0 118.0,67.9 118.3,68.1 118.6,68.6 118.9,69.1 119.3,69.5 120.3,69.7 121.6,69.8 122.9,69.7 124.0,69.5 124.6,69.1 125.1,68.6 125.5,68.2 126.0,68.0 126.7,68.5 127.4,69.7 128.2,71.0 129.0,72.0 129.9,72.7 130.9,73.4 132.0,73.9 133.0,74.0 134.0,73.5 135.1,72.4 136.1,71.4 137.0,71.0 137.8,71.5 138.5,72.6 139.2,73.9 140.0,75.0 141.0,75.9 142.0,76.7 143.1,77.4 144.0,77.8 144.5,77.8 145.0,77.7 145.5,77.6 145.9,77.6 146.3,78.1 146.7,78.7 147.0,79.5 147.3,80.3 147.7,81.5 148.0,82.7 148.5,84.1 149.0,85.5 150.1,87.4 151.4,89.4 152.7,91.4 154.0,93.0 154.8,93.9 155.5,94.6 156.3,95.3 157.0,96.0 157.8,96.7 158.5,97.4 159.3,98.1 160.0,99.0 161.0,100.6 161.9,102.5 162.8,104.4 164.0,106.0 165.4,107.2 167.0,108.1 168.6,109.0 170.0,110.0 171.1,111.0 172.1,112.0 173.0,113.0 174.0,114.0 175.0,115.0 176.0,116.1 177.0,117.1 178.0,118.0 178.9,118.6 179.9,119.1 180.9,119.6 182.0,120.0 183.4,120.7 184.9,121.4 186.5,121.9 188.0,122.0 189.5,121.4 191.0,120.4 192.5,119.1 194.0,118.0 195.5,116.9 197.0,115.8 198.5,114.8 200.0,114.0 201.3,113.5 202.5,113.1 203.8,112.9 205.0,113.0 206.3,113.4 207.5,114.1 208.8,115.0 210.0,116.0 211.5,117.7 213.0,119.7 214.5,121.9 216.0,124.0 217.5,126.1 219.0,128.2 220.5,130.2 222.0,132.0 223.3,133.2 224.7,134.3 226.0,135.2 227.0,136.0 227.3,136.3 227.5,136.5 227.7,136.8 228.0,137.0 229.2,137.7 230.8,138.4 232.5,139.0 234.0,139.0 235.2,138.4 236.2,137.4 237.2,136.0 238.0,134.5 239.0,131.9 239.7,128.7 240.3,125.3 241.0,122.0 241.9,118.4 242.8,114.6 243.8,111.0 245.0,108.0 245.9,106.3 246.8,104.9 247.8,103.6 249.0,102.4 250.4,101.5 252.0,100.8 253.5,100.1 255.0,99.0 256.6,96.9 258.1,94.3 259.5,91.5 261.0,89.0 262.4,87.1 263.8,85.3 265.4,83.6 267.0,82.0 268.8,80.6 270.8,79.3 272.9,78.1 275.0,77.0 277.4,75.9 279.9,74.9 282.5,73.9 285.0,73.0 287.5,72.2 290.0,71.4 292.5,70.6 295.0,70.0 297.5,69.5 300.0,69.0 302.5,68.7 305.0,68.4 307.5,68.2 310.0,68.1 312.5,68.0 315.0,68.0 317.6,68.0 320.2,67.9 322.7,67.9 325.0,68.0 326.6,68.0 328.2,68.1 329.6,68.2 331.0,68.4 332.1,68.8 333.0,69.3 334.0,69.8 335.0,70.0 336.2,69.8 337.5,69.2 338.8,68.6 340.0,68.0 341.0,67.5 341.9,67.1 342.9,66.6 344.0,66.3 346.5,65.9 349.6,65.7 352.6,65.8 355.0,66.3 356.0,66.8 356.8,67.5 357.4,68.3 358.0,69.0 358.3,69.6 358.6,70.3 358.8,70.8 359.0,71.0 359.6,69.6 360.3,66.5 360.9,63.4 361.6,62.0 362.1,62.8 362.6,64.5 363.1,66.2 363.6,67.0 364.1,66.4 364.6,65.2 365.2,63.8 366.0,63.0 367.2,63.2 368.7,64.0 370.3,65.1 372.0,66.0 373.9,66.6 375.9,67.1 377.9,67.5 380.0,68.0 382.4,68.5 384.9,69.1 387.5,69.6 390.0,70.0 392.5,70.3 395.0,70.6 397.5,70.8 400.0,71.0 402.5,71.1 405.0,71.1 407.5,71.1 410.0,71.0 412.5,70.7 415.0,70.3 417.5,69.9 420.0,69.6 422.5,69.3 425.1,69.1 427.6,69.0 430.0,69.0 432.2,69.2 434.4,69.6 436.4,70.1 438.0,70.4 438.6,70.4 439.0,70.4 439.5,70.4 439.9,70.5 440.2,70.8 440.5,71.1 440.8,71.5 441.2,71.8 441.6,71.9 442.0,71.9 442.4,72.0 442.8,72.1 443.3,72.5 443.8,73.0 444.3,73.5 444.8,73.8 445.2,73.9 445.7,73.8 446.1,73.8 446.6,73.8 447.1,74.1 447.5,74.5 448.0,74.9 448.5,75.2 448.9,75.2 449.3,75.2 449.7,75.2 450.1,75.3 450.6,75.5 451.1,75.9 451.7,76.3 452.2,76.5 452.7,76.7 453.2,76.7 453.7,76.8 454.2,76.9 454.7,77.2 455.2,77.7 455.7,78.1 456.1,78.4 456.5,78.4 456.9,78.4 457.4,78.3 457.7,78.4 458.0,78.6 458.3,79.0 458.6,79.4 458.9,79.7 459.4,79.8 460.0,79.9 460.6,80.0 461.1,80.2 461.4,80.5 461.7,80.9 462.0,81.4 462.3,81.7 462.8,81.8 463.3,81.8 463.9,81.8 464.5,82.0 466.0,83.5 467.8,85.8 469.5,88.5 471.0,91.0 471.9,92.8 472.6,94.5 473.3,96.3 474.0,98.0 474.7,99.8 475.4,101.7 476.2,103.5 477.0,105.0 477.7,106.0 478.5,107.0 479.2,107.8 480.0,108.0 481.0,107.2 482.0,105.6 483.0,103.6 484.0,102.0 484.7,101.0 485.5,100.0 486.2,99.3 487.0,99.0 488.0,99.4 489.1,100.3 490.1,101.6 491.0,103.0 491.9,104.9 492.6,107.1 493.3,109.5 494.0,112.0 495.0,115.3 496.0,118.9 497.0,122.5 498.0,126.0 499.0,129.1 500.0,132.3 501.0,135.3 502.0,138.0 502.7,140.0 503.3,141.8 504.1,143.5 505.0,145.0 506.1,146.1 507.5,147.0 508.9,147.9 510.0,149.0 511.0,150.5 511.7,152.2 512.4,154.1 513.0,156.0 513.6,158.3 514.2,160.7 514.6,163.3 515.0,166.0 515.4,169.7 515.7,173.6 515.9,177.8 516.2,182.0 516.5,188.0 516.9,194.9 517.2,200.6 517.6,203.0 518.0,200.8 518.4,195.3 518.8,188.4 519.2,182.0 519.5,175.7 519.8,169.2 520.1,162.6 520.4,156.0 520.8,149.2 521.2,142.2 521.6,135.6 522.0,130.0 522.2,127.3 522.5,125.0 522.7,122.7 523.0,120.0 523.4,114.6 523.9,108.3 524.5,101.9 525.0,96.0 525.4,91.7 525.9,87.5 526.4,83.6 527.0,80.0 527.6,77.2 528.3,74.6 529.1,72.2 530.0,70.0 530.9,68.3 531.8,66.7 532.8,65.2 534.0,64.0 535.1,63.2 536.3,62.5 537.6,62.0 539.0,61.6 540.7,61.4 542.6,61.3 544.5,61.5 546.0,62.0 546.9,62.7 547.7,63.7 548.3,64.8 549.0,66.0 550.0,67.8 551.0,69.8 552.0,71.9 553.0,74.0 553.9,76.1 554.8,78.2 555.8,80.2 557.0,82.0 558.3,83.5 559.8,84.8 561.4,85.9 563.0,87.0 564.7,87.8 566.5,88.5 568.4,89.1 570.0,90.0 571.4,91.1 572.6,92.3 573.8,93.6 575.0,95.0 576.3,96.7 577.5,98.6 578.7,100.4 580.0,102.0 581.1,103.3 582.2,104.6 583.3,105.5 584.4,106.0 585.6,105.8 586.8,105.1 587.9,104.1 589.0,103.0 590.1,101.6 591.1,99.9 592.0,98.0 593.0,96.0 594.3,93.1 595.6,89.9 596.8,86.8 598.0,84.0 598.8,82.2 599.6,80.3 600.4,78.9 601.0,78.4 601.5,79.0 601.8,80.4 602.1,82.2 602.4,84.0 602.8,87.1 603.1,90.7 603.4,94.4 603.6,98.0 603.8,101.6 604.0,105.6 604.2,108.7 604.4,110.0 604.7,108.5 605.0,104.8 605.3,100.2 605.6,96.0 605.9,92.4 606.1,88.8 606.5,85.3 607.0,82.0 607.6,79.3 608.3,76.7 609.1,74.3 610.0,72.0 610.9,70.0 611.8,68.2 612.9,66.5 614.0,65.0 614.9,64.0 615.9,63.2 616.9,62.5 618.0,62.0 619.4,61.6 620.9,61.4 622.4,61.5 623.6,61.7 624.2,62.1 624.6,62.7 625.0,63.3 625.5,63.6 626.1,63.4 626.8,63.0 627.4,62.5 628.0,62.4 628.7,63.2 629.3,64.7 629.8,66.1 630.4,66.7 630.9,66.2 631.3,64.9 631.9,63.7 632.5,63.0 633.5,63.3 634.7,64.3 636.0,65.6 637.3,66.7 638.5,67.6 639.7,68.5 641.0,69.3 642.2,69.8 643.3,70.1 644.5,70.2 645.6,70.1 646.6,69.8 647.5,69.1 648.3,68.1 649.0,67.0 649.7,66.0 650.3,65.1 650.9,64.2 651.5,63.4 652.2,63.0 653.1,63.0 654.0,63.2 655.0,63.7 655.9,64.2 656.8,65.0 657.7,66.1 658.6,67.2 659.6,68.0 660.8,68.4 662.1,68.6 663.4,68.8 664.6,69.2 665.5,69.7 666.2,70.3 667.0,71.0 667.7,71.7 668.6,72.9 669.6,74.2 670.5,75.4 671.4,76.0 671.9,75.9 672.4,75.7 672.8,75.3 673.3,74.8 674.0,73.8 674.6,72.5 675.2,71.1 675.8,69.8 676.4,68.8 677.0,67.9 677.6,66.9 678.3,66.0 679.2,64.7 680.2,63.3 681.1,62.2 681.4,61.7"/>
</g>
<g stroke="#000" stroke-width="2" fill="none">
<line x1="92" y1="8.9" x2="92" y2="485.8"/>
<line x1="82.8" y1="476" x2="682.8" y2="476"/>
<line x1="87.3" y1="450.3" x2="92" y2="450.3"/>
<line x1="82.8" y1="425.3" x2="92" y2="425.3"/>
<line x1="87.3" y1="399.2" x2="92" y2="399.2"/>
<line x1="82.8" y1="372.9" x2="92" y2="372.9"/>
<line x1="87.3" y1="347.0" x2="92" y2="347.0"/>
<line x1="82.8" y1="321.0" x2="92" y2="321.0"/>
<line x1="87.3" y1="294.7" x2="92" y2="294.7"/>
<line x1="82.8" y1="268.7" x2="92" y2="268.7"/>
<line x1="87.3" y1="244.0" x2="92" y2="244.0"/>
<line x1="82.8" y1="217.3" x2="92" y2="217.3"/>
<line x1="87.3" y1="191.5" x2="92" y2="191.5"/>
<line x1="82.8" y1="165.4" x2="92" y2="165.4"/>
<line x1="87.3" y1="139.1" x2="92" y2="139.1"/>
<line x1="82.8" y1="113.2" x2="92" y2="113.2"/>
<line x1="87.3" y1="87.7" x2="92" y2="87.7"/>
<line x1="82.8" y1="62.2" x2="92" y2="62.2"/>
<line x1="87.3" y1="36.2" x2="92" y2="36.2"/>
<line x1="82.8" y1="9.9" x2="92" y2="9.9"/>
<line x1="665.6" y1="476" x2="665.6" y2="485.8"/>
<line x1="583.6" y1="476" x2="583.6" y2="485.8"/>
<line x1="501.7" y1="476" x2="501.7" y2="485.8"/>
<line x1="419.8" y1="476" x2="419.8" y2="485.8"/>
<line x1="337.9" y1="476" x2="337.9" y2="485.8"/>
<line x1="255.9" y1="476" x2="255.9" y2="485.8"/>
<line x1="174.0" y1="476" x2="174.0" y2="485.8"/>
<line x1="624.6" y1="476" x2="624.6" y2="481.5"/>
<line x1="542.7" y1="476" x2="542.7" y2="481.5"/>
<line x1="460.8" y1="476" x2="460.8" y2="481.5"/>
<line x1="378.8" y1="476" x2="378.8" y2="481.5"/>
<line x1="296.9" y1="476" x2="296.9" y2="481.5"/>
<line x1="215.0" y1="476" x2="215.0" y2="481.5"/>
<line x1="133.1" y1="476" x2="133.1" y2="481.5"/>
</g>
<g font-family="'Liberation Sans', sans-serif" fill="#1c1c1c">
<g font-size="18" letter-spacing="1.2">
<text x="48.7" y="480.9">0.2</text>
<text x="48.7" y="430.2">0.3</text>
<text x="48.7" y="377.8">0.4</text>
<text x="48.7" y="325.9">0.5</text>
<text x="48.7" y="273.6">0.6</text>
<text x="48.7" y="222.2">0.7</text>
<text x="48.7" y="170.3">0.8</text>
<text x="48.7" y="118.1">0.9</text>
<text x="48.7" y="67.1">1.0</text>
<text x="48.7" y="14.8">1.1</text>
</g>
<g font-size="18" text-anchor="middle" letter-spacing="1.3">
<text x="665.1" y="506.8">500</text>
<text x="583.1" y="506.8">1000</text>
<text x="501.2" y="506.8">1500</text>
<text x="419.3" y="506.8">2000</text>
<text x="337.4" y="506.8">2500</text>
<text x="255.4" y="506.8">3000</text>
<text x="173.5" y="506.8">3500</text>
<text x="91.6" y="506.8">4000</text>
</g>
<text font-size="23.5" letter-spacing="0.5" x="280" y="547.5">Wavenumber (cm<tspan font-size="14" dy="-13" dx="2">-1</tspan><tspan dy="13">)</tspan></text>
<text font-size="23.5" letter-spacing="0.5" transform="translate(21.3,341.7) rotate(-90)">Transmittance (a.u.)</text>
<rect x="97.4" y="370.3" width="150.3" height="99.7" fill="#fff" stroke="#222" stroke-width="1.2"/>
<line x1="99.8" y1="384.7" x2="146.6" y2="384.7" stroke="#ff0000" stroke-width="2"/>
<text font-size="18" letter-spacing="1.5" x="149.9" y="389.6">PS3CF1.5</text>
<line x1="99.8" y1="408.4" x2="146.6" y2="408.4" stroke="#0000ff" stroke-width="2"/>
<text font-size="18" letter-spacing="1.5" x="149.9" y="413.7">PCF1.5</text>
<line x1="99.8" y1="432.5" x2="146.6" y2="432.5" stroke="#008080" stroke-width="2"/>
<text font-size="18" letter-spacing="1.5" x="149.9" y="437.8">PS3</text>
<line x1="99.8" y1="457.3" x2="146.6" y2="457.3" stroke="#000000" stroke-width="2"/>
<text font-size="18" letter-spacing="1.5" x="149.9" y="461.9">P</text>
</g>
</svg>
</body></html>
